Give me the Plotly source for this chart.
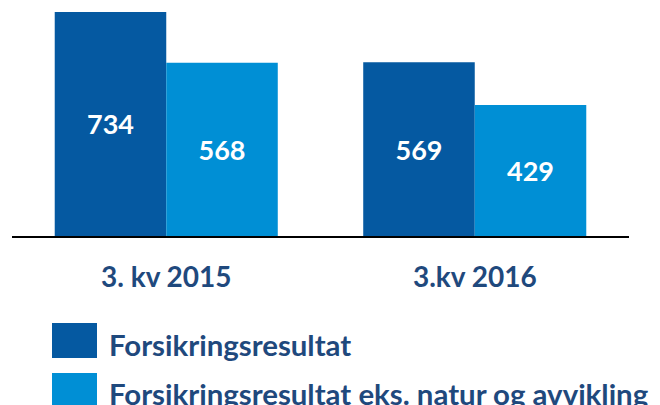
import plotly.graph_objects as go

categories = ["3. kv 2015", "3.kv 2016"]
series_names = ["Forsikringsresultat", "Forsikringsresultat eks. natur og avvikling"]
forsikringsresultat = [734, 569]
eks_natur = [568, 429]

dark = "#0559A1"
light = "#008FD5"
navy = "#1F497D"
FONT = "Lato"

OFF = 8  # page body margin
W, H = 660, 405
L, R, T, B = 12 - OFF, 31 + OFF, 0, 169 + OFF
pw, ph = W - L - R, H - T - B

def px(x):
    return (x - OFF - L) / pw

def py(y):
    return (H - B - (y - OFF)) / ph

fig = go.Figure()
for name, vals, col in [(series_names[0], forsikringsresultat, dark),
                        (series_names[1], eks_natur, light)]:
    fig.add_trace(go.Bar(
        x=categories, y=vals, name=name, marker_color=col, marker_line_width=0,
        texttemplate="<b>%{y}</b>", textposition="inside", insidetextanchor="middle",
        textfont=dict(family=FONT, size=27, color="white"), showlegend=False,
        hoverinfo="skip"))

# manual legend
legend_rows = [(323, 358, 344, dark, series_names[0]),
               (373, 410, 393, light, series_names[1])]
for y0, y1, yc, col, name in legend_rows:
    fig.add_shape(type="rect", xref="paper", yref="paper",
                  x0=px(52), x1=px(97), y0=py(y1), y1=py(y0),
                  fillcolor=col, line_width=0)
    fig.add_annotation(xref="paper", yref="paper", x=px(107), y=py(yc),
                       xanchor="left", yanchor="middle", showarrow=False,
                       text=f"<b>{name}</b>",
                       font=dict(family=FONT, size=29.4, color=navy))

fig.update_layout(
    width=W, height=H, margin=dict(l=L, r=R, t=T, b=B),
    paper_bgcolor="white", plot_bgcolor="white",
    barmode="group", bargap=0.277, bargroupgap=0,
    xaxis=dict(showline=True, linecolor="black", linewidth=2, ticks="",
               tickvals=categories, ticktext=[f"<b>{c}</b>" for c in categories],
               tickfont=dict(family=FONT, size=28, color=navy),
               ticklabelstandoff=15, range=[-0.5, 1.5], fixedrange=True),
    yaxis=dict(visible=False, range=[0, 747], showgrid=False, zeroline=False),
)
fig.write_html("out.html")
